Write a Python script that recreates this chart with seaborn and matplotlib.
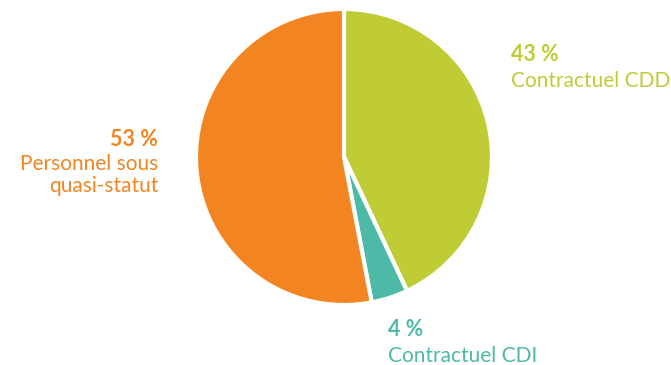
import matplotlib
matplotlib.use("Agg")
import matplotlib.pyplot as plt
import seaborn as sns

categories = ["Contractuel CDD", "Contractuel CDI", "Personnel sous\nquasi-statut"]
shares = [43, 4, 53]
colors = ["#BFCC36", "#4DBAA8", "#F28522"]

sns.set_theme(style="white")
plt.rcParams["font.family"] = ["Lato", "DejaVu Sans"]

W, H = 671, 365
fig = plt.figure(figsize=(W / 100, H / 100), dpi=100)
fig.patch.set_facecolor("white")

# pie placed by pixel box
cx, cy, r = 344, 157, 148
ax = fig.add_axes([(cx - r) / W, (H - cy - r) / H, 2 * r / W, 2 * r / H])
ax.pie(shares, colors=colors, startangle=90, counterclock=False,
       wedgeprops=dict(edgecolor="white", linewidth=3))
ax.set_aspect("equal")
ax.set_xlim(-1, 1)
ax.set_ylim(-1, 1)
ax.axis("off")

def px(x, y):
    return x / W, 1 - y / H

# (x, percent baseline, first label baseline, alignment)
label_pos = [
    (511, 61, 87, "left"),
    (388, 336, 362, "left"),
    (158, 146, 170, "right"),
]
for cat, val, col, (x, yp, yl, ha) in zip(categories, shares, colors, label_pos):
    fig.text(*px(x, yp), f"{val} %", color=col, fontsize=15.5, fontweight="bold",
             ha=ha, va="baseline")
    for i, line in enumerate(cat.split("\n")):
        fig.text(*px(x, yl + 22 * i), line, color=col, fontsize=15,
                 ha=ha, va="baseline")

fig.savefig("out.png", dpi=100)
